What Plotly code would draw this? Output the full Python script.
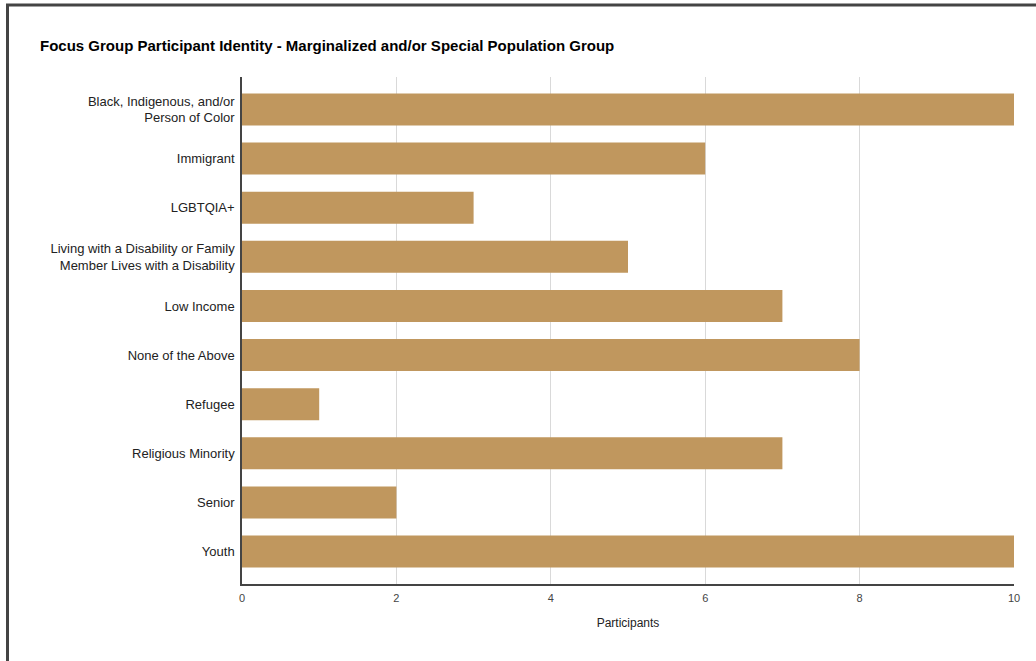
import plotly.graph_objects as go

categories = [
    "Black, Indigenous, and/or<br>Person of Color",
    "Immigrant",
    "LGBTQIA+",
    "Living with a Disability or Family<br>Member Lives with a Disability",
    "Low Income",
    "None of the Above",
    "Refugee",
    "Religious Minority",
    "Senior",
    "Youth",
]
participants = [10, 6, 3, 5, 7, 8, 1, 7, 2, 10]
x_ticks = [0, 2, 4, 6, 8, 10]

BAR_COLOR = "#c0975e"
FONT = "Liberation Sans, Arial, sans-serif"

fig = go.Figure(
    go.Bar(
        x=participants,
        y=categories,
        orientation="h",
        marker=dict(color=BAR_COLOR, line=dict(width=0)),
        width=0.65,
    )
)

fig.update_layout(
    width=1036,
    height=661,
    margin=dict(l=242, r=22, t=77, b=77),
    paper_bgcolor="white",
    plot_bgcolor="white",
    showlegend=False,
    font=dict(family=FONT, size=12, color="#222222"),
    title=dict(
        text="<b>Focus Group Participant Identity - Marginalized and/or Special Population Group</b>",
        x=40 / 1036,
        xanchor="left",
        y=1 - 46 / 661,
        yanchor="middle",
        font=dict(family=FONT, size=15, color="#000000"),
    ),
    xaxis=dict(
        range=[0, 10],
        tickvals=x_ticks,
        ticktext=[str(v) for v in x_ticks],
        showgrid=True,
        gridcolor="#d9d9d9",
        gridwidth=1,
        zeroline=False,
        showline=True,
        linecolor="#444444",
        linewidth=1.5,
        ticks="outside",
        ticklen=3,
        tickcolor="rgba(0,0,0,0)",
        tickfont=dict(size=11, color="#444444"),
        title=dict(text="Participants", font=dict(size=12, color="#222222"), standoff=16),
    ),
    yaxis=dict(
        type="category",
        categoryorder="array",
        categoryarray=categories,
        range=[9.66, -0.66],
        showgrid=False,
        zeroline=False,
        showline=True,
        linecolor="#444444",
        linewidth=1.5,
        ticks="outside",
        ticklen=3,
        tickcolor="rgba(0,0,0,0)",
        tickfont=dict(size=13, color="#222222"),
    ),
    shapes=[
        # frame around the chart: left and top edges
        dict(type="line", xref="paper", yref="paper",
             x0=-234.5 / 772, x1=-234.5 / 772, y0=(584 - 4) / 507, y1=-1,
             line=dict(color="#444444", width=3)),
        dict(type="line", xref="paper", yref="paper",
             x0=-236 / 772, x1=2, y0=(584 - 5) / 507, y1=(584 - 5) / 507,
             line=dict(color="#444444", width=3)),
    ],
)

fig.write_html("out.html")
